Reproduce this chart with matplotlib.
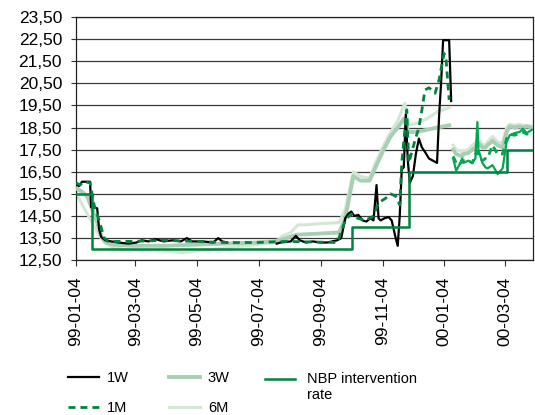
import matplotlib
matplotlib.use("Agg")
import matplotlib.pyplot as plt
import numpy as np
import pandas as pd
from matplotlib.lines import Line2D
from matplotlib.legend_handler import HandlerLine2D

plt.rcParams['font.family'] = ['Liberation Sans', 'DejaVu Sans']

# ---------------- data ----------------
w1_dates = ["1999-01-04", "1999-01-07", "1999-01-10", "1999-01-18", "1999-01-19", "1999-01-25",
            "1999-01-27", "1999-01-29", "1999-02-02", "1999-02-08", "1999-02-15", "1999-02-25",
            "1999-03-05", "1999-03-10", "1999-03-17", "1999-03-24", "1999-04-01", "1999-04-10",
            "1999-04-18", "1999-04-24", "1999-04-29", "1999-05-10", "1999-05-20", "1999-05-25",
            "1999-05-29", "1999-06-03", "1999-06-04",
            "1999-07-22", "1999-07-26", "1999-08-05", "1999-08-10", "1999-08-14", "1999-08-20",
            "1999-08-27", "1999-09-03", "1999-09-10", "1999-09-15", "1999-09-20", "1999-09-24",
            "1999-09-28", "1999-10-01", "1999-10-04", "1999-10-07", "1999-10-11", "1999-10-15",
            "1999-10-19", "1999-10-23", "1999-10-26", "1999-10-29", "1999-10-31", "1999-11-02",
            "1999-11-06", "1999-11-10", "1999-11-13", "1999-11-17", "1999-11-19", "1999-11-21",
            "1999-11-23", "1999-11-25", "1999-11-27", "1999-11-29", "1999-12-01", "1999-12-04",
            "1999-12-07", "1999-12-10", "1999-12-13", "1999-12-16", "1999-12-20", "1999-12-24",
            "1999-12-28", "1999-12-30", "2000-01-01", "2000-01-03", "2000-01-09", "2000-01-11"]
w1_values = [15.95, 15.85, 16.05, 16.05, 14.9, 14.85,
             13.9, 13.55, 13.4, 13.35, 13.3, 13.25,
             13.3, 13.4, 13.35, 13.45, 13.35, 13.4,
             13.35, 13.5, 13.35, 13.35, 13.3, 13.5,
             13.35, 13.3, np.nan,
             13.25, 13.3, 13.35, 13.6, 13.4, 13.3,
             13.35, 13.3, 13.3, 13.35, 13.4, 13.5,
             14.4, 14.6, 14.7, 14.5, 14.55, 14.3,
             14.25, 14.4, 14.3, 15.9, 14.4, 14.3,
             14.4, 14.45, 14.3, 13.5, 13.15, 14.5,
             16.6, 16.7, 19.1, 17.0, 16.0, 16.3,
             17.3, 18.0, 17.6, 17.4, 17.1, 17.0,
             16.9, 19.0, 20.5, 22.45, 22.45, 19.7]

m1_dates = ["1999-01-04", "1999-01-08", "1999-01-12", "1999-01-18", "1999-01-22", "1999-01-27",
            "1999-02-01", "1999-02-05", "1999-03-01", "1999-04-01", "1999-05-01", "1999-06-01",
            "1999-07-01", "1999-08-01", "1999-09-20", "1999-09-28", "1999-10-04", "1999-10-10",
            "1999-10-18", "1999-10-26", "1999-10-31", "1999-11-07", "1999-11-12", "1999-11-17",
            "1999-11-21", "1999-11-23", "1999-11-28", "1999-11-30", "1999-12-06", "1999-12-10",
            "1999-12-13", "1999-12-16", "1999-12-20", "1999-12-23", "1999-12-26", "1999-12-30",
            "2000-01-02", "2000-01-04", "2000-01-06", "2000-01-09"]
m1_values = [16.0, 15.9, 16.05, 16.0, 15.0, 14.3,
             13.5, 13.35, 13.35, 13.4, 13.35, 13.3,
             13.3, 13.35, 13.3, 14.3, 14.6, 14.4,
             14.3, 14.5, 15.1, 15.3, 15.5, 15.4,
             15.0, 16.9, 19.3, 16.9, 17.9, 18.5,
             19.3, 20.2, 20.3, 20.2, 20.05, 20.65,
             21.4, 21.85, 21.55, 19.75]

w3_dates = ["1999-01-04", "1999-01-10", "1999-01-15", "1999-01-20", "1999-01-25", "1999-01-29",
            "1999-02-03", "1999-02-10", "1999-03-01", "1999-04-01", "1999-05-01", "1999-06-01",
            "1999-07-01", "1999-07-20", "1999-08-01", "1999-08-10", "1999-09-01", "1999-09-22",
            "1999-09-28", "1999-10-06", "1999-10-13", "1999-10-22", "1999-10-28", "1999-11-04",
            "1999-11-12", "1999-11-19", "1999-11-25", "1999-11-30", "1999-12-08", "1999-12-18",
            "1999-12-28", "2000-01-09"]
w3_values = [15.75, 15.6, 15.4, 14.8, 14.2, 13.6,
             13.3, 13.2, 13.15, 13.15, 13.2, 13.25,
             13.3, 13.35, 13.5, 13.65, 13.7, 13.75,
             14.4, 16.3, 16.1, 16.1, 16.7, 17.4,
             18.1, 18.5, 18.9, 18.3, 18.3, 18.4,
             18.5, 18.6]

m6_dates = ["1999-01-04", "1999-01-08", "1999-01-14", "1999-01-20", "1999-01-26", "1999-02-01",
            "1999-02-08", "1999-02-20", "1999-03-05", "1999-03-20", "1999-04-05", "1999-04-20",
            "1999-05-01", "1999-05-20", "1999-06-10", "1999-07-01", "1999-07-20", "1999-07-28",
            "1999-08-05", "1999-08-12", "1999-08-20", "1999-09-01", "1999-09-22", "1999-09-28",
            "1999-10-06", "1999-10-13", "1999-10-22", "1999-10-28", "1999-11-04", "1999-11-12",
            "1999-11-19", "1999-11-26", "1999-11-30", "1999-12-08", "1999-12-18", "1999-12-28",
            "2000-01-09"]
m6_values = [15.55, 15.2, 14.7, 14.2, 13.7, 13.3,
             13.1, 13.0, 12.95, 12.95, 12.9, 12.85,
             12.9, 13.0, 13.1, 13.2, 13.3, 13.6,
             13.75, 14.1, 14.1, 14.15, 14.2, 14.8,
             16.5, 16.3, 16.2, 16.9, 17.6, 18.3,
             18.8, 19.6, 18.6, 18.7, 18.9, 19.2,
             19.4]

# 2000 segment
y2k_dates = ["2000-01-13", "2000-01-16", "2000-01-19", "2000-01-22", "2000-01-23", "2000-01-28",
             "2000-02-01", "2000-02-04", "2000-02-06", "2000-02-07", "2000-02-11", "2000-02-14",
             "2000-02-16", "2000-02-21", "2000-02-26", "2000-03-02", "2000-03-06", "2000-03-09",
             "2000-03-14", "2000-03-19", "2000-03-22", "2000-03-26", "2000-03-31"]
w1_2000 = [17.1, 16.55, 16.8, 17.1, 16.9, 17.0,
           16.9, 17.1, 18.75, 17.5, 16.9, 16.7,
           16.65, 16.8, 16.4, 16.65, 17.85, 18.15,
           18.25, 18.3, 18.45, 18.25, 18.4]
m1_2000 = [17.2, 16.9, 16.8, 17.0, 17.0, 17.0,
           16.9, 17.3, 17.4, 17.2, 17.0, 17.1,
           17.1, 17.7, 17.3, 17.3, 18.0, 18.2,
           18.15, 18.25, 18.3, 18.2, 18.3]
w3_2000 = [17.5, 17.3, 17.25, 17.2, 17.3, 17.35,
           17.5, 17.6, 17.8, 17.8, 17.6, 17.6,
           17.7, 17.9, 17.7, 17.6, 18.3, 18.55,
           18.5, 18.55, 18.5, 18.55, 18.5]
m6_2000 = [17.7, 17.5, 17.45, 17.4, 17.45, 17.5,
           17.7, 17.8, 18.0, 18.0, 17.75, 17.7,
           17.85, 18.1, 17.85, 17.8, 18.5, 18.65,
           18.6, 18.65, 18.6, 18.6, 18.55]

nbp_dates = ["1999-01-04", "1999-01-20", "1999-10-05", "1999-11-30", "2000-03-06", "2000-04-01"]
nbp_values = [15.5, 13.0, 14.0, 16.5, 17.5, 17.5]

xtick_dates = ["1999-01-04", "1999-03-04", "1999-05-04", "1999-07-04",
               "1999-09-04", "1999-11-04", "2000-01-04", "2000-03-04"]
ytick_values = [12.5, 13.5, 14.5, 15.5, 16.5, 17.5, 18.5, 19.5, 20.5, 21.5, 22.5, 23.5]

labels = ["1W", "1M", "3W", "6M", "NBP intervention\nrate"]

# ---------------- styles ----------------
c_1w = "#000000"
c_1m = "#00843d"
c_3w = "#a8cfb3"
c_6m = "#d3e7d6"
c_nbp = "#00843d"
c_2000 = "#00a84f"

fig = plt.figure(figsize=(5.35, 4.15), dpi=100)
ax = fig.add_axes([0.142, 0.373, 0.854, 0.586])

d = pd.to_datetime
ax.plot(d(m6_dates), m6_values, color=c_6m, lw=2.2, zorder=2)
ax.plot(d(y2k_dates), m6_2000, color=c_6m, lw=2.2, zorder=2)
ax.plot(d(w3_dates), w3_values, color=c_3w, lw=2.8, zorder=3)
ax.plot(d(y2k_dates), w3_2000, color=c_3w, lw=2.8, zorder=3)
ax.plot(d(w1_dates), w1_values, color=c_1w, lw=1.6, zorder=4)
ax.plot(d(y2k_dates), w1_2000, color=c_2000, lw=1.6, zorder=4)
ax.plot(d(m1_dates), m1_values, color=c_1m, lw=2.0, dashes=(2.5, 1.8), zorder=5)
ax.plot(d(y2k_dates), m1_2000, color=c_2000, lw=2.0, dashes=(2.5, 1.8), zorder=5)
ax.plot(d(nbp_dates), nbp_values, color=c_nbp, lw=1.8, drawstyle="steps-post", zorder=6)

ax.set_ylim(12.5, 23.5)
ax.set_xlim(d("1999-01-04"), d("2000-04-01"))
ax.set_yticks(ytick_values)
ax.set_yticklabels([f"{v:.2f}".replace(".", ",") for v in ytick_values])
ax.set_xticks(d(xtick_dates))
ax.set_xticklabels([pd.Timestamp(t).strftime("%y-%m-%d") for t in xtick_dates], rotation=90)
ax.tick_params(axis="y", direction="out", length=3.5, width=0.8, labelsize=12.5,
               color="#333333", pad=6.5)
ax.tick_params(axis="x", direction="out", length=4, width=0.8, labelsize=12.5,
               color="#333333", pad=8)
ax.yaxis.grid(True, color="#3a3a3a", lw=0.9)
ax.set_axisbelow(True)
for s in ax.spines.values():
    s.set_color("#222222")
    s.set_linewidth(0.9)


# legend
class RaisedHandler(HandlerLine2D):
    """Line handle aligned with the first line of a two-line label."""
    def __init__(self, shift, **kw):
        super().__init__(**kw)
        self.shift = shift

    def create_artists(self, legend, orig_handle, xdescent, ydescent, width, height,
                       fontsize, trans):
        arts = super().create_artists(legend, orig_handle, xdescent, ydescent, width,
                                      height, fontsize, trans)
        for a in arts:
            a.set_ydata(np.asarray(a.get_ydata()) + self.shift * fontsize)
        return arts


handles = [
    Line2D([], [], color=c_1w, lw=1.6),
    Line2D([], [], color=c_1m, lw=2.0, dashes=(2.5, 1.8)),
    Line2D([], [], color=c_3w, lw=2.8),
    Line2D([], [], color=c_6m, lw=2.2),
    Line2D([], [], color=c_nbp, lw=1.8),
]
common = dict(frameon=False, fontsize=10.5, handlelength=2.1,
              borderaxespad=0, borderpad=0)
leg1 = fig.legend(handles[:4], labels[:4], ncol=2, loc="upper left",
                  bbox_to_anchor=(0.127, 0.106), columnspacing=2.8, labelspacing=1.12,
                  handletextpad=0.55, **common)
leg2 = fig.legend([handles[4]], [labels[4]], loc="upper left",
                  bbox_to_anchor=(0.495, 0.104), handletextpad=0.8,
                  handler_map={handles[4]: RaisedHandler(0.6)}, **common)

fig.savefig("out.png", dpi=100)
